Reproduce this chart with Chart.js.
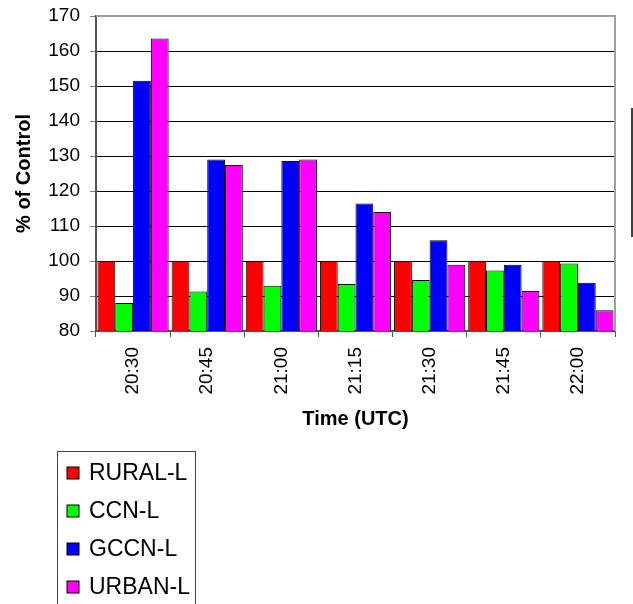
<!DOCTYPE html>
<html>
<head>
<meta charset="utf-8">
<script src="https://cdn.jsdelivr.net/npm/chart.js"></script>
<style>
    html, body { margin: 0; padding: 0; background: #fff; }
    #wrap { width: 633px; height: 604px; }
</style>
</head>
<body>
<div id="wrap"><canvas id="graph" width="633" height="604"></canvas></div>
<script>
const categories = ["20:30", "20:45", "21:00", "21:15", "21:30", "21:45", "22:00"];
const rural = [100, 100, 100, 100, 100, 100, 100];
const ccn = [88, 91.3, 92.9, 93.4, 94.6, 97.3, 99.3];
const gccn = [151.5, 129, 128.6, 116.4, 105.9, 98.9, 93.8];
const urban = [163.6, 127.4, 129, 114, 98.9, 91.4, 85.9];
const seriesNames = ["RURAL-L", "CCN-L", "GCCN-L", "URBAN-L"];
const yTicks = [80, 90, 100, 110, 120, 130, 140, 150, 160, 170];

const red = "rgb(255, 0, 0)";
const green = "rgb(0, 255, 0)";
const blue = "rgb(0, 0, 255)";
const magenta = "rgb(255, 0, 255)";
const fontFamily = "'Liberation Sans', Arial, sans-serif";

function makeSet(label, values, color)
{
    return {
        label: label,
        data: values,
        backgroundColor: color,
        borderColor: "#000",
        borderWidth: 1
    };
}

// plot frame, box legend under the chart, and the clipped box edge at the right
const extras = {
    id: "extras",
    afterDraw(chart)
    {
        const ctx = chart.ctx;
        const area = chart.chartArea;
        ctx.save();
        ctx.strokeStyle = "#a0a0a0";
        ctx.lineWidth = 2;
        ctx.beginPath();
        ctx.moveTo(area.left, area.top);
        ctx.lineTo(area.right, area.top);
        ctx.lineTo(area.right, area.bottom);
        ctx.stroke();

        ctx.strokeStyle = "#000";
        ctx.lineWidth = 1.5;
        ctx.beginPath();
        ctx.moveTo(632, 108);
        ctx.lineTo(632, 237);
        ctx.stroke();

        ctx.strokeStyle = "#444";
        ctx.lineWidth = 1;
        ctx.strokeRect(57.5, 451.5, 138, 160);

        ctx.font = "23px " + fontFamily;
        ctx.textBaseline = "middle";
        chart.data.datasets.forEach((ds, i) => {
            let y = 473 + i * 38;
            ctx.fillStyle = ds.backgroundColor;
            ctx.fillRect(67, y - 6, 12, 12);
            ctx.strokeStyle = "#000";
            ctx.strokeRect(67, y - 6, 12, 12);
            ctx.fillStyle = "#000";
            ctx.fillText(ds.label, 89, y + 1);
        });
        ctx.restore();
    }
};

new Chart(document.getElementById("graph"), {
    type: "bar",
    data: {
        labels: categories,
        datasets: [
            makeSet(seriesNames[0], rural, red),
            makeSet(seriesNames[1], ccn, green),
            makeSet(seriesNames[2], gccn, blue),
            makeSet(seriesNames[3], urban, magenta)
        ]
    },
    options: {
        responsive: false,
        animation: false,
        devicePixelRatio: 1,
        layout: { padding: { top: 16, right: 18, bottom: 170, left: 0 } },
        datasets: { bar: { categoryPercentage: 0.96, barPercentage: 1 } },
        plugins: {
            legend: { display: false },
            tooltip: { enabled: false }
        },
        scales: {
            x: {
                afterFit(scale) { scale.height = 103; },
                grid: {
                    offset: true,
                    drawOnChartArea: false,
                    drawTicks: true,
                    tickLength: 6,
                    color: "#555"
                },
                border: { color: "#555", width: 2 },
                ticks: {
                    maxRotation: 90,
                    minRotation: 90,
                    padding: 10,
                    color: "#000",
                    font: { family: fontFamily, size: 19 }
                },
                title: {
                    display: true,
                    text: "Time (UTC)",
                    color: "#000",
                    padding: { top: 0, bottom: 3 },
                    font: { family: fontFamily, size: 20, weight: "bold" }
                }
            },
            y: {
                min: 80,
                max: 170,
                afterFit(scale) {
                    scale.width = 96;
                    scale.paddingTop = 0;
                    scale.paddingBottom = 0;
                },
                afterBuildTicks(scale) { scale.ticks = yTicks.map(v => ({ value: v })); },
                grid: {
                    color: (c) => c.tick && c.tick.value === 170 ? "#a0a0a0" : "#000",
                    tickColor: "#808080",
                    tickLength: 6,
                    lineWidth: 1
                },
                border: { color: "#555", width: 2 },
                ticks: {
                    padding: 10,
                    color: "#000",
                    font: { family: fontFamily, size: 19 }
                },
                title: {
                    display: true,
                    text: "% of Control",
                    color: "#000",
                    padding: { top: 12, bottom: 0 },
                    font: { family: fontFamily, size: 20, weight: "bold" }
                }
            }
        }
    },
    plugins: [extras]
});
</script>
</body>
</html>
